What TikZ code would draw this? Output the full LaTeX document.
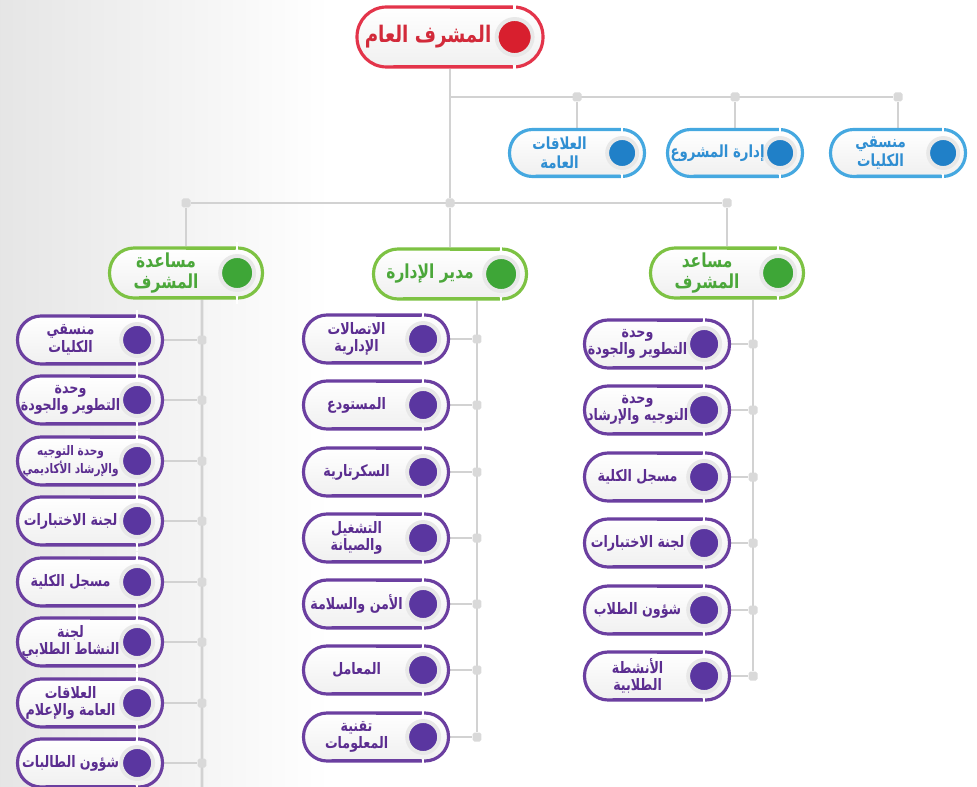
\documentclass[tikz,border=0pt]{standalone}
\usepackage{fontspec}
\newfontfamily\arfont[Script=Arabic,FakeStretch=0.8]{DejaVu Sans}
\TeXXeTstate=1
\usetikzlibrary{calc,positioning}
\pgfdeclarelayer{back}
\pgfsetlayers{back,main}
\definecolor{redB}{HTML}{E3344A}
\definecolor{redD}{HTML}{D81F2E}
\definecolor{redT}{HTML}{D22A3A}
\definecolor{blueB}{HTML}{45A8E0}
\definecolor{blueD}{HTML}{2080C8}
\definecolor{blueT}{HTML}{2F8ED2}
\definecolor{greenB}{HTML}{7DC243}
\definecolor{greenD}{HTML}{3EA637}
\definecolor{greenT}{HTML}{4BA73A}
\definecolor{purpleB}{HTML}{6B3FA0}
\definecolor{purpleD}{HTML}{5A36A0}
\definecolor{purpleT}{HTML}{5B2D90}
\newcommand\rl[1]{\beginR #1\endR}
\newcommand\rls[1]{{\fontsize{7.5}{8.5}\selectfont\beginR #1\endR}}
\newcommand\orgbox[4]{%
  \node[#3 box] (#1) at (#2) {};
  \node[#3 dot] (#1c) at (#1.east) {};
  \draw[notch] ($(#1c.center |- #1.north)+(0,-4)$) -- +(0,8);
  \draw[notch] ($(#1c.center |- #1.south)+(0,-4)$) -- +(0,8);
  \draw[#3 tab] ($(#1.north west)!0.5!(#1.north east)+(0,2)$) -- ($(#1c.center |- #1.north)+(-2,2)$);
  \draw[#3 tab] ($(#1.south west)!0.2!(#1.south east)+(0,-2)$) -- ($(#1c.center |- #1.south)+(-2,-2)$);
  \node[#3 text] (#1t) at ($(#1.west)!0.5!(#1c.west)+(3,0)$) {#4};
}
\tikzset{
chart/.style={x=0.02cm,y=-0.02cm},
box/.style={rectangle,top color=white,bottom color=gray!12,line width=1.8pt,inner sep=0pt},
dot/.style={circle,draw=gray!18,line width=2.2pt,inner sep=0pt,anchor=east},
caption/.style={align=center,inner sep=0pt},
link/.style={draw=gray!35,line width=1.5pt},
joint/.style={rectangle,fill=gray!30,minimum size=0.18cm,inner sep=0pt,rounded corners=1pt},
notch/.style={white,line width=1.4pt},
red box/.style={box,draw=redB,minimum width=3.72cm,minimum height=1.2cm,rounded corners=0.59cm},
red dot/.style={dot,fill=redD,minimum size=0.72cm,xshift=-0.2cm},
red tab/.style={draw=redB,line width=1.6pt},
red text/.style={caption,text=redT,font=\arfont\bfseries\fontsize{13}{15}\selectfont},
blue box/.style={box,draw=blueB,minimum width=2.7cm,minimum height=0.94cm,rounded corners=0.46cm},
blue dot/.style={dot,fill=blueD,minimum size=0.6cm,xshift=-0.14cm},
blue tab/.style={draw=blueB,line width=1.6pt},
blue text/.style={caption,text=blueT,font=\arfont\bfseries\fontsize{9.5}{10.5}\selectfont},
green box/.style={box,draw=greenB,minimum width=3.06cm,minimum height=1cm,rounded corners=0.49cm},
green dot/.style={dot,fill=greenD,minimum size=0.68cm,xshift=-0.16cm},
green tab/.style={draw=greenB,line width=1.6pt},
green text/.style={caption,text=greenT,font=\arfont\bfseries\fontsize{11}{12}\selectfont},
purple box/.style={box,draw=purpleB,minimum width=2.9cm,minimum height=0.96cm,rounded corners=0.47cm},
purple dot/.style={dot,fill=purpleD,minimum size=0.64cm,xshift=-0.18cm},
purple tab/.style={draw=purpleB,line width=1.6pt},
purple text/.style={caption,text=purpleT,font=\arfont\bfseries\fontsize{9}{10}\selectfont},
}
\begin{document}
\begin{tikzpicture}[chart]
\useasboundingbox (0,0) rectangle (977,787);
% top
\orgbox{gm}{450,37}{red}{\rl{المشرف العام}}
% staff row
\orgbox{b1}{577,153}{blue}{\rl{العلاقات}\\\rl{العامة}}
\orgbox{b2}{735,153}{blue}{\rl{إدارة المشروع}}
\orgbox{b3}{898,153}{blue}{\rl{منسقي}\\\rl{الكليات}}
% assistants
\orgbox{g1}{186,273}{green}{\rl{مساعدة}\\\rl{المشرف}}
\orgbox{g2}{450,274}{green}{\rl{مدير الإدارة}}
\orgbox{g3}{727,273}{green}{\rl{مساعد}\\\rl{المشرف}}
% left column
\orgbox{l1}{90,340}{purple}{\rl{منسقي}\\\rl{الكليات}}
\orgbox{l2}{90,400}{purple}{\rl{وحدة}\\\rl{التطوير والجودة}}
\orgbox{l3}{90,461}{purple}{\rls{وحدة التوجيه}\\\rls{والإرشاد الأكاديمي}}
\orgbox{l4}{90,521}{purple}{\rl{لجنة الاختبارات}}
\orgbox{l5}{90,582}{purple}{\rl{مسجل الكلية}}
\orgbox{l6}{90,642}{purple}{\rl{لجنة}\\\rl{النشاط الطلابي}}
\orgbox{l7}{90,703}{purple}{\rl{العلاقات}\\\rl{العامة والإعلام}}
\orgbox{l8}{90,763}{purple}{\rl{شؤون الطالبات}}
% middle column
\orgbox{m1}{376,339}{purple}{\rl{الاتصالات}\\\rl{الإدارية}}
\orgbox{m2}{376,405}{purple}{\rl{المستودع}}
\orgbox{m3}{376,472}{purple}{\rl{السكرتارية}}
\orgbox{m4}{376,538}{purple}{\rl{التشغيل}\\\rl{والصيانة}}
\orgbox{m5}{376,604}{purple}{\rl{الأمن والسلامة}}
\orgbox{m6}{376,670}{purple}{\rl{المعامل}}
\orgbox{m7}{376,737}{purple}{\rl{تقنية}\\\rl{المعلومات}}
% right column
\orgbox{r1}{657,344}{purple}{\rl{وحدة}\\\rl{التطوير والجودة}}
\orgbox{r2}{657,410}{purple}{\rl{وحدة}\\\rl{التوجيه والإرشاد}}
\orgbox{r3}{657,477}{purple}{\rl{مسجل الكلية}}
\orgbox{r4}{657,543}{purple}{\rl{لجنة الاختبارات}}
\orgbox{r5}{657,610}{purple}{\rl{شؤون الطلاب}}
\orgbox{r6}{657,676}{purple}{\rl{الأنشطة}\\\rl{الطلابية}}
% joints
\coordinate (jt) at (450,97);
\node[joint] (jm) at (450,203) {};
\node[joint] (jb1) at (b1 |- jt) {};
\node[joint] (jb2) at (b2 |- jt) {};
\node[joint] (jb3) at (b3 |- jt) {};
\node[joint] (jg1) at (g1 |- jm) {};
\node[joint] (jg3) at (g3 |- jm) {};
\coordinate (lt) at ([xshift=0.32cm]g1.south);
\coordinate (mt) at ([xshift=0.54cm]g2.south);
\coordinate (rt) at ([xshift=0.52cm]g3.south);
\coordinate (lend) at (202,787);
\foreach \i in {1,...,8}
  \node[joint] (lj\i) at (l\i -| lt) {};
\foreach \i in {1,...,7}
  \node[joint] (mj\i) at (m\i -| mt) {};
\foreach \i in {1,...,6}
  \node[joint] (rj\i) at (r\i -| rt) {};
\begin{pgfonlayer}{back}
\shade[left color=gray!20,right color=white] (0,0) rectangle (330,787);
\draw[link] (gm) -- (jm);
\draw[link] (jt) -- (jb3);
\draw[link] (jb1) -- (b1);
\draw[link] (jb2) -- (b2);
\draw[link] (jb3) -- (b3);
\draw[link] (jg1) -- (jg3);
\draw[link] (jg1) -- (g1);
\draw[link] (jm) -- (g2);
\draw[link] (jg3) -- (g3);
\draw[link] (lt) -- (lend);
\draw[link] (mt) -- (mj7);
\draw[link] (rt) -- (rj6);
\foreach \i in {1,...,8}
  \draw[link] (l\i) -- (lj\i);
\foreach \i in {1,...,7}
  \draw[link] (m\i) -- (mj\i);
\foreach \i in {1,...,6}
  \draw[link] (r\i) -- (rj\i);
\end{pgfonlayer}
\end{tikzpicture}
\end{document}
